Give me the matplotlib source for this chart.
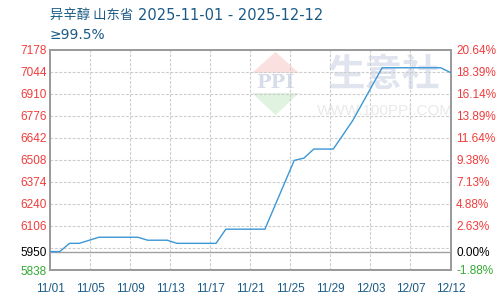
import matplotlib
matplotlib.use("Agg")
import matplotlib.pyplot as plt
import numpy as np

plt.rcParams['font.family'] = ['Liberation Sans', 'DejaVu Sans']

# price series (yuan/ton), only the days where the line changes slope
dates = ['2025-11-01', '2025-11-02', '2025-11-03', '2025-11-04', '2025-11-06',
         '2025-11-10', '2025-11-11', '2025-11-13', '2025-11-14', '2025-11-18',
         '2025-11-19', '2025-11-23', '2025-11-26', '2025-11-27', '2025-11-28',
         '2025-11-30', '2025-12-02', '2025-12-05', '2025-12-11', '2025-12-12']
prices = [5950, 5950, 6000, 6000, 6037,
          6037, 6019, 6019, 6000, 6000,
          6086, 6086, 6504, 6518, 6573,
          6573, 6747, 7067, 7067, 7038]

start_date = '2025-11-01'
end_date = '2025-12-12'
base_price = 5950

x_labels = ['11/01', '11/05', '11/09', '11/13', '11/17', '11/21',
            '11/25', '11/29', '12/03', '12/07', '12/12']

y_min, y_max = 5838, 7178
left_labels = ['7178', '7044', '6910', '6776', '6642', '6508',
               '6374', '6240', '6106', '5950', '5838']
left_values = [7178, 7044, 6910, 6776, 6642, 6508, 6374, 6240, 6106, 5950, 5838]
right_labels = ['20.64%', '18.39%', '16.14%', '13.89%', '11.64%', '9.38%',
                '7.13%', '4.88%', '2.63%', '0.00%', '-1.88%']

title_name = '异辛醇 山东省'
title_range = '2025-11-01 - 2025-12-12'
subtitle = '≥99.5%'

days = (np.array(dates, dtype='datetime64[D]') - np.datetime64(start_date)).astype(int)
n_days = int((np.datetime64(end_date) - np.datetime64(start_date)).astype(int))

fig = plt.figure(figsize=(5, 3), dpi=100)
ax = fig.add_axes([0.1, 0.1, 0.801, 0.735])

ax.set_xlim(0, n_days)
ax.set_ylim(y_min, y_max)

# grid
grid_kw = dict(color='#cccccc', lw=0.8, ls=(0, (2.5, 1.5)), zorder=1)
for gx in np.linspace(0, n_days, 11)[1:-1]:
    ax.axvline(gx, **grid_kw)
for gy in np.linspace(y_min, y_max, 11)[1:-1]:
    ax.axhline(gy, **grid_kw)
ax.axhline(base_price, color='#a0a0a0', lw=1.0, zorder=2)

# watermark
wm = dict(transform=ax.transAxes, zorder=0)
ax.fill([0.504, 0.563, 0.622], [0.893, 0.989, 0.893], color='#fbe0e0', lw=0, **wm)
ax.fill([0.504, 0.622, 0.563], [0.803, 0.803, 0.703], color='#e0f2e0', lw=0, **wm)
ax.text(0.563, 0.85, 'PPI', ha='center', va='center', fontsize=14,
        fontweight='bold', family='DejaVu Serif', color='#d6dcea', **wm)
ax.text(0.834, 0.885, '生意社', ha='center', va='center', fontsize=27,
        fontweight='bold', family='Noto Sans CJK SC', color='#e0e4ef', **wm)
ax.text(0.836, 0.722, 'WWW.100PPI.COM', ha='center', va='center', fontsize=11,
        color='#e9e9e9', **wm)

ax.plot(days, prices, color='#3b97d6', lw=1.0, zorder=3)

for s in ax.spines.values():
    s.set_color('#999999')
    s.set_linewidth(1.4)

ax.set_xticks(np.linspace(0, n_days, 11))
ax.set_xticklabels(x_labels, fontsize=8.5, color='#1b5a86')
ax.tick_params(axis='x', length=0, pad=9)

ax.set_yticks(left_values)
ax.set_yticklabels(left_labels, fontsize=8.5)
ax.tick_params(axis='y', length=0, pad=21)
for lbl in ax.get_yticklabels():
    lbl.set_horizontalalignment('left')

ax2 = ax.twinx()
ax2.set_ylim(y_min, y_max)
ax2.set_yticks(left_values)
ax2.set_yticklabels(right_labels, fontsize=8.5)
ax2.tick_params(axis='y', length=0, pad=4)
for s in ax2.spines.values():
    s.set_visible(False)


def label_color(v):
    if v > base_price:
        return '#f03c3c'
    if v < base_price:
        return '#33aa33'
    return '#000000'


for lbl, v in zip(ax.get_yticklabels(), left_values):
    lbl.set_color(label_color(v))
for lbl, v in zip(ax2.get_yticklabels(), left_values):
    lbl.set_color(label_color(v))

fig.text(0.1, 0.95, title_name, ha='left', va='center', fontsize=9.6,
         family='Noto Sans CJK SC', color='#1b5a86')
fig.text(0.277, 0.95, title_range, ha='left', va='center', fontsize=10.5,
         family='DejaVu Sans', color='#1b5a86')
fig.text(0.1, 0.882, subtitle, ha='left', va='center', fontsize=10,
         family='DejaVu Sans', color='#1b5a86')

fig.savefig('out.png', dpi=100)
